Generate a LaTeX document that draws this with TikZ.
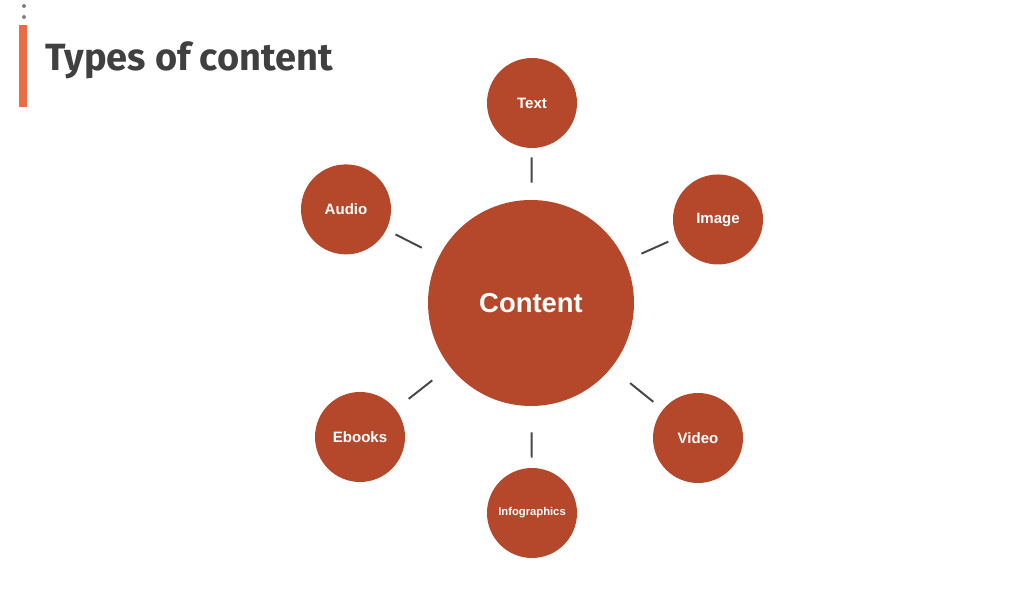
\documentclass[tikz,border=0pt]{standalone}
\usepackage{fontspec}
\setmainfont{Liberation Sans}
\newfontfamily\titlefont{Fira Sans}
\definecolor{rust}{HTML}{B5482A}
\definecolor{accent}{HTML}{EE6A43}
\definecolor{ink}{HTML}{404040}
\definecolor{wire}{HTML}{474747}
\begin{document}
\begin{tikzpicture}[line width=0.6pt,
  hub/.style={circle, fill=rust, text=white, inner sep=0pt, minimum size=5.150cm, font=\bfseries\fontsize{19.5}{22}\selectfont},
  leaf/.style={circle, fill=rust, text=white, inner sep=0pt, minimum size=2.250cm, font=\bfseries\fontsize{10.7}{12}\selectfont},
  link/.style={draw=wire, line width=1.4pt}]
  \useasboundingbox (0.000,0.000) rectangle (25.400,15.225);
  \fill[accent] (0.475,12.550) rectangle (0.675,14.600);
  \fill[gray] (0.600,15.075) circle (0.050);
  \fill[gray] (0.600,14.800) circle (0.050);
  \node[anchor=base west, inner sep=0pt, text=ink, font=\titlefont\bfseries\fontsize{27}{30}\selectfont] (title) at (1.125,13.450) {Types of content};
  \node[hub] (content) at (13.275,7.650) {Content};
  \node[leaf] (text) at (13.300,12.650) {Text};
  \node[leaf] (audio) at (8.650,9.990) {Audio};
  \node[leaf] (image) at (17.950,9.738) {Image};
  \node[leaf] (ebooks) at (9.000,4.300) {Ebooks};
  \node[leaf] (video) at (17.450,4.275) {Video};
  \node[leaf, font=\bfseries\fontsize{8}{10}\selectfont] (infographics) at (13.300,2.400) {Infographics};
  \draw[link, shorten <=0.425cm, shorten >=0.225cm] (content) -- (text);
  \draw[link, shorten <=0.475cm, shorten >=0.250cm] (content) -- (audio);
  \draw[link, shorten <=0.440cm, shorten >=0.225cm] (content) -- (image);
  \draw[link, shorten <=0.550cm, shorten >=0.410cm] (content) -- (ebooks);
  \draw[link, shorten <=0.600cm, shorten >=0.300cm] (content) -- (video);
  \draw[link, shorten <=0.650cm, shorten >=0.250cm] (content) -- (infographics);
\end{tikzpicture}
\end{document}
